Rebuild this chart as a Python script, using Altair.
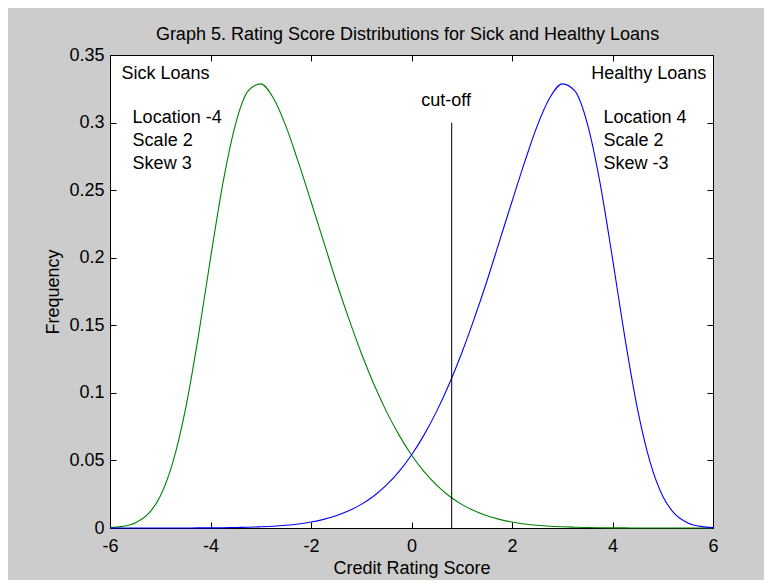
import altair as alt
import pandas as pd

# ---- data ----
scores = [-6.0, -5.75, -5.5, -5.25, -5.0, -4.75, -4.5, -4.25, -4.0, -3.75, -3.5, -3.25,
          -3.0, -2.75, -2.5, -2.25, -2.0, -1.75, -1.5, -1.25, -1.0, -0.75, -0.5, -0.25,
          0.0, 0.25, 0.5, 0.75, 1.0, 1.25, 1.5, 1.75, 2.0, 2.25, 2.5, 2.75,
          3.0, 3.25, 3.5, 3.75, 4.0, 4.25, 4.5, 4.75, 5.0, 5.25, 5.5, 5.75, 6.0]

sick_freq = [0.0003, 0.0012, 0.0037, 0.0100, 0.0235, 0.0485, 0.0876, 0.1400, 0.1995, 0.2558, 0.2991, 0.3234,
             0.3286, 0.3182, 0.2974, 0.2705, 0.2416, 0.2121, 0.1826, 0.1551, 0.1295, 0.1065, 0.0863, 0.0689,
             0.0540, 0.0417, 0.0317, 0.0237, 0.0175, 0.0127, 0.0091, 0.0064, 0.0044, 0.0030, 0.0020, 0.0013,
             0.0009, 0.0006, 0.0004, 0.0002, 0.0001, 0.0001, 0.0000, 0.0000, 0.0000, 0.0000, 0.0000, 0.0000, 0.0000]

healthy_freq = [0.0000, 0.0000, 0.0000, 0.0000, 0.0000, 0.0000, 0.0000, 0.0001, 0.0001, 0.0002, 0.0004, 0.0006,
                0.0009, 0.0013, 0.0020, 0.0030, 0.0044, 0.0064, 0.0091, 0.0127, 0.0175, 0.0237, 0.0317, 0.0417,
                0.0540, 0.0689, 0.0863, 0.1065, 0.1295, 0.1551, 0.1826, 0.2121, 0.2416, 0.2705, 0.2974, 0.3182,
                0.3286, 0.3234, 0.2991, 0.2558, 0.1995, 0.1400, 0.0876, 0.0485, 0.0235, 0.0100, 0.0037, 0.0012, 0.0003]

series_names = ["Sick Loans", "Healthy Loans"]
series_colors = ["#008000", "#0000ff"]

x_ticks = [-6, -4, -2, 0, 2, 4, 6]
y_ticks = [0, 0.05, 0.1, 0.15, 0.2, 0.25, 0.3, 0.35]

cutoff_x = [0.8]
cutoff_top = [0.3]

left_labels = ["Sick Loans", "Location -4", "Scale 2", "Skew 3", "Location 4", "Scale 2", "Skew -3"]
left_x = [-5.77, -5.55, -5.55, -5.55, 3.82, 3.82, 3.82]
left_y = [0.332, 0.300, 0.283, 0.266, 0.300, 0.283, 0.266]

right_labels = ["Healthy Loans"]
right_x = [5.865]
right_y = [0.332]

center_labels = ["cut-off"]
center_x = [0.69]
center_y = [0.312]

title_text = "Graph 5. Rating Score Distributions for Sick and Healthy Loans"

# ---- tables ----
curves = pd.DataFrame({
    "score": scores + scores,
    "freq": sick_freq + healthy_freq,
    "loan": [series_names[0]] * len(scores) + [series_names[1]] * len(scores),
})
cut = pd.DataFrame({"x": cutoff_x, "y": [0.0], "y2": cutoff_top})
ann_l = pd.DataFrame({"t": left_labels, "x": left_x, "y": left_y})
ann_r = pd.DataFrame({"t": right_labels, "x": right_x, "y": right_y})
ann_c = pd.DataFrame({"t": center_labels, "x": center_x, "y": center_y})

W, H = 603, 473
FONT = "Liberation Sans"
FS = 18

xs = alt.Scale(domain=[-6, 6], nice=False, zero=False)
ys = alt.Scale(domain=[0, 0.35], nice=False, zero=False)

lines = alt.Chart(curves).mark_line(strokeWidth=1.1, interpolate="monotone").encode(
    x=alt.X("score:Q", scale=xs,
            axis=alt.Axis(orient="bottom", values=x_ticks, ticks=False, domain=False, grid=False,
                          labelPadding=9, labelFlush=False, labelExpr="datum.value + ''",
                          title="Credit Rating Score", titlePadding=4)),
    y=alt.Y("freq:Q", scale=ys,
            axis=alt.Axis(orient="left", values=y_ticks, ticks=False, domain=False, grid=False,
                          labelPadding=6, labelExpr="datum.value + ''",
                          title="Frequency", titlePadding=6)),
    color=alt.Color("loan:N", scale=alt.Scale(domain=series_names, range=series_colors), legend=None),
)

ticks_a = alt.Chart(curves).mark_point(opacity=0).encode(
    x=alt.X("score:Q", scale=xs,
            axis=alt.Axis(orient="top", offset=-H, values=x_ticks, labels=False, domain=False,
                          grid=False, tickSize=6, title=None)),
    y=alt.Y("freq:Q", scale=ys,
            axis=alt.Axis(orient="right", offset=-W, values=y_ticks, labels=False, domain=False,
                          grid=False, tickSize=6, title=None)),
)

ticks_b = alt.Chart(curves).mark_point(opacity=0).encode(
    x=alt.X("score:Q", scale=xs,
            axis=alt.Axis(orient="bottom", offset=-H, values=x_ticks, labels=False, domain=False,
                          grid=False, tickSize=6, title=None)),
    y=alt.Y("freq:Q", scale=ys,
            axis=alt.Axis(orient="left", offset=-W, values=y_ticks, labels=False, domain=False,
                          grid=False, tickSize=6, title=None)),
)

rule = alt.Chart(cut).mark_rule(color="black", strokeWidth=1).encode(
    x=alt.X("x:Q", scale=xs, axis=None),
    y=alt.Y("y:Q", scale=ys, axis=None),
    y2="y2:Q",
)


def texts(df, align):
    return alt.Chart(df).mark_text(align=align, baseline="alphabetic", font=FONT, fontSize=FS,
                                   color="black").encode(
        x=alt.X("x:Q", scale=xs, axis=None),
        y=alt.Y("y:Q", scale=ys, axis=None),
        text="t:N",
    )


chart = alt.layer(
    ticks_a, ticks_b, lines, rule,
    texts(ann_l, "left"), texts(ann_r, "right"), texts(ann_c, "center"),
).resolve_axis(
    x="independent", y="independent"
).properties(
    width=W, height=H,
    autosize=alt.AutoSizeParams(type="none"),
    padding={"left": 102, "top": 47, "right": 51, "bottom": 52},
    background="#cccccc",
    title=alt.TitleParams(title_text, font=FONT, fontSize=FS, fontWeight="normal", color="black",
                          anchor="middle", baseline="alphabetic", offset=-12, dx=-4),
).configure_view(
    fill="white", stroke="black", strokeWidth=1
).configure_axis(
    labelFont=FONT, labelFontSize=FS, labelColor="black",
    titleFont=FONT, titleFontSize=FS, titleFontWeight="normal", titleColor="black",
    tickColor="black", tickWidth=1,
)

chart.save("out.html", embed_options={"renderer": "svg", "actions": False})
